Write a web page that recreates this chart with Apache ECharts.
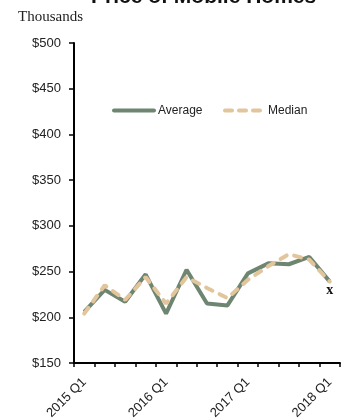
<!DOCTYPE html>
<html>
<head>
<meta charset="utf-8">
<style>
  html, body { margin: 0; padding: 0; background: #fff; }
  #chart { width: 343px; height: 420px; }
</style>
<script src="https://cdn.jsdelivr.net/npm/echarts@6/dist/echarts.min.js"></script>
</head>
<body>
<div id="chart"></div>
<script>
// Quarterly price of mobile homes, in thousands of dollars
const quarters = [
  '2015 Q1', '2015 Q2', '2015 Q3', '2015 Q4',
  '2016 Q1', '2016 Q2', '2016 Q3', '2016 Q4',
  '2017 Q1', '2017 Q2', '2017 Q3', '2017 Q4',
  '2018 Q1'
];
const averagePrice = [206, 230, 217, 247, 204, 252, 215, 213, 248, 259, 258, 266, 239];
const medianPrice  = [204, 235, 219, 244, 215, 244, 232, 221, 241, 256, 269, 263, 239];
const yTicks = { min: 150, max: 500, step: 50 };

const chart = echarts.init(document.getElementById('chart'), null, { renderer: 'canvas' });

const labelFont = "'Liberation Sans', Arial, sans-serif";
const avgColor = '#6d8571';
const medColor = '#e2c59b';
const medDash = [7, 8];

// Hand-built legend: solid swatch for the average, dashed swatch for the median
const legendY = 110.5;
const legendText = { font: "12px 'Liberation Sans', Arial, sans-serif", fill: '#222', textVerticalAlign: 'middle' };

chart.setOption({
  animation: false,
  backgroundColor: '#fff',
  title: {
    text: 'Price of Mobile Homes',
    left: 86,
    top: -18,
    textStyle: { fontFamily: labelFont, fontSize: 21, fontWeight: 'bold', color: '#111' }
  },
  graphic: [
    {
      type: 'text',
      left: 18,
      top: 10,
      style: { text: 'Thousands', font: "15px 'Liberation Serif', 'Times New Roman', serif", fill: '#222' }
    },
    {
      type: 'line',
      shape: { x1: 114, y1: legendY, x2: 154, y2: legendY },
      style: { stroke: avgColor, lineWidth: 4, lineCap: 'round' }
    },
    {
      type: 'text',
      x: 158, y: legendY,
      style: Object.assign({ text: 'Average' }, legendText)
    },
    {
      type: 'line',
      shape: { x1: 225, y1: legendY, x2: 260, y2: legendY },
      style: { stroke: medColor, lineWidth: 4, lineCap: 'round', lineDash: [7, 7] }
    },
    {
      type: 'text',
      x: 268, y: legendY,
      style: Object.assign({ text: 'Median' }, legendText)
    }
  ],
  grid: { left: 74, right: 3, top: 43, bottom: 57, containLabel: false, outerBoundsMode: 'none' },
  xAxis: {
    type: 'category',
    data: quarters,
    boundaryGap: true,
    axisLine: { lineStyle: { color: '#000', width: 2 } },
    axisTick: { show: true, interval: 0, length: 4, lineStyle: { color: '#000', width: 1.5 } },
    axisLabel: {
      interval: 3,
      rotate: 45,
      margin: 17,
      fontFamily: labelFont,
      fontSize: 13,
      color: '#222'
    },
    splitLine: { show: false }
  },
  yAxis: {
    type: 'value',
    min: yTicks.min,
    max: yTicks.max,
    interval: yTicks.step,
    axisLine: { show: true, lineStyle: { color: '#000', width: 2 } },
    axisTick: { show: true, length: 5, lineStyle: { color: '#000', width: 1.5 } },
    axisLabel: {
      formatter: v => '$' + v,
      margin: 13,
      fontFamily: labelFont,
      fontSize: 13,
      color: '#222'
    },
    splitLine: { show: false }
  },
  series: [
    {
      name: 'Average',
      type: 'line',
      data: averagePrice,
      symbol: 'none',
      lineStyle: { color: avgColor, width: 4 },
      itemStyle: { color: avgColor },
      z: 2
    },
    {
      name: 'Median',
      type: 'line',
      data: medianPrice,
      symbol: 'none',
      lineStyle: { color: medColor, width: 4, type: medDash, cap: 'round' },
      itemStyle: { color: medColor },
      z: 3,
      markPoint: {
        symbol: 'circle',
        symbolSize: 0,
        data: [{ coord: [quarters.length - 1, medianPrice[medianPrice.length - 1]] }],
        label: {
          show: true,
          formatter: 'x',
          position: 'bottom',
          distance: 2,
          fontFamily: "'Liberation Serif', 'Times New Roman', serif",
          fontWeight: 'bold',
          fontSize: 14,
          color: '#111'
        }
      }
    }
  ]
});
</script>
</body>
</html>
